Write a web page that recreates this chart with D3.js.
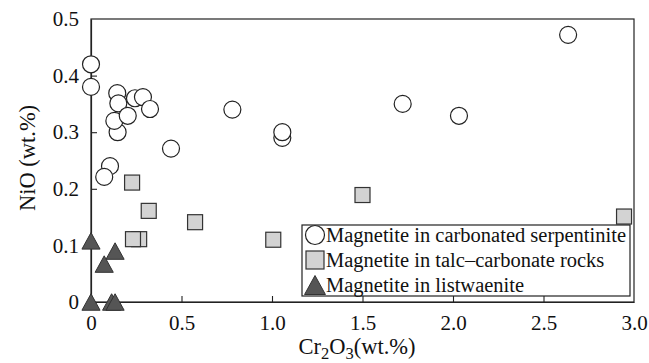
<!DOCTYPE html>
<html>
<head>
<meta charset="utf-8">
<script src="https://cdn.jsdelivr.net/npm/d3@7/dist/d3.min.js"></script>
<style>
  html, body { margin: 0; padding: 0; background: #fff; }
  svg { display: block; }
  text { font-family: "Liberation Serif", "Times New Roman", serif; fill: #111; }
</style>
</head>
<body>
<svg id="chart" width="649" height="363"></svg>
<script>
// Cr2O3 vs NiO (wt.%) of magnetite in three rock types
const serpCr  = [0, 0, 0.145, 0.151, 0.147, 0.129, 0.203, 0.243, 0.287, 0.326, 0.442, 0.781, 0.105, 0.073, 1.057, 1.057, 1.722, 2.033, 2.636];
const serpNi  = [0.42, 0.38, 0.369, 0.351, 0.30, 0.32, 0.329, 0.36, 0.362, 0.341, 0.271, 0.34, 0.24, 0.221, 0.29, 0.30, 0.35, 0.329, 0.472];

const talcCr  = [0.227, 0.319, 0.575, 0.266, 0.232, 1.007, 1.50, 2.945];
const talcNi  = [0.211, 0.161, 0.141, 0.111, 0.111, 0.11, 0.189, 0.151];

const listCr  = [0, 0.133, 0.073, 0, 0.114, 0.133];
const listNi  = [0.108, 0.09, 0.067, 0, 0, 0];

const xTicks = [0, 0.5, 1.0, 1.5, 2.0, 2.5, 3.0];
const xTickLabels = ["0", "0.5", "1.0", "1.5", "2.0", "2.5", "3.0"];
const yTicks = [0, 0.1, 0.2, 0.3, 0.4, 0.5];
const yTickLabels = ["0", "0.1", "0.2", "0.3", "0.4", "0.5"];

const legendLabels = [
  "Magnetite in carbonated serpentinite",
  "Magnetite in talc\u2013carbonate rocks",
  "Magnetite in listwaenite"
];

const svg = d3.select("#chart");
const m = { left: 91, right: 634, top: 19, bottom: 302 };

const x = d3.scaleLinear().domain([0, 3]).range([m.left, m.right]);
const y = d3.scaleLinear().domain([0, 0.5]).range([m.bottom, m.top]);

const ink = "#222";

// plot frame (top and right edges)
svg.append("rect")
  .attr("x", m.left).attr("y", m.top)
  .attr("width", m.right - m.left).attr("height", m.bottom - m.top)
  .attr("fill", "none").attr("stroke", ink).attr("stroke-width", 1.2);

// x axis with inward ticks
const xAxis = d3.axisBottom(x)
  .tickValues(xTicks)
  .tickFormat((d, i) => xTickLabels[i])
  .tickSizeInner(-6).tickSizeOuter(0).tickPadding(13);
const gx = svg.append("g").attr("transform", `translate(0,${m.bottom})`).call(xAxis);

// y axis with inward ticks
const yAxis = d3.axisLeft(y)
  .tickValues(yTicks)
  .tickFormat((d, i) => yTickLabels[i])
  .tickSizeInner(-6).tickSizeOuter(0).tickPadding(12);
const gy = svg.append("g").attr("transform", `translate(${m.left},0)`).call(yAxis);

[gx, gy].forEach(g => {
  g.select(".domain").attr("stroke", ink).attr("stroke-width", 1.2);
  g.selectAll(".tick line").attr("stroke", ink).attr("stroke-width", 1.1);
  g.selectAll(".tick text")
    .attr("font-family", "Liberation Serif, Times New Roman, serif")
    .attr("font-size", 21).attr("fill", "#111");
});
// no tick marks at the corners
gx.selectAll(".tick").filter(d => d === 0 || d === 3).select("line").remove();
gy.selectAll(".tick").filter(d => d === 0 || d === 0.5).select("line").remove();

// axis titles
const xt = svg.append("text")
  .attr("x", 357).attr("y", 354)
  .attr("text-anchor", "middle")
  .attr("font-size", 22.5);
xt.append("tspan").text("Cr");
xt.append("tspan").attr("dy", 5).attr("font-size", 16.5).text("2");
xt.append("tspan").attr("dy", -5).text("O");
xt.append("tspan").attr("dy", 5).attr("font-size", 16.5).text("3");
xt.append("tspan").attr("dy", -5).text("(wt.%)");

svg.append("text")
  .attr("transform", "translate(35,158) rotate(-90)")
  .attr("text-anchor", "middle")
  .attr("font-size", 22.5)
  .text("NiO (wt.%)");

// marker shapes
const triPath = s => `M0,${-s * 0.5}L${s * 0.55},${s * 0.5}L${-s * 0.55},${s * 0.5}Z`;

const plot = svg.append("g");

// open circles: carbonated serpentinite
plot.selectAll("circle.serp")
  .data(d3.zip(serpCr, serpNi))
  .join("circle")
  .attr("class", "serp")
  .attr("cx", d => x(d[0])).attr("cy", d => y(d[1]))
  .attr("r", 8.5)
  .attr("fill", "#fff").attr("stroke", ink).attr("stroke-width", 1.2);

// grey squares: talc-carbonate rocks
const sq = 15;
plot.selectAll("rect.talc")
  .data(d3.zip(talcCr, talcNi))
  .join("rect")
  .attr("class", "talc")
  .attr("x", d => x(d[0]) - sq / 2).attr("y", d => y(d[1]) - sq / 2)
  .attr("width", sq).attr("height", sq)
  .attr("fill", "#d3d3d3").attr("stroke", "#333").attr("stroke-width", 1.2);

// dark triangles: listwaenite
plot.selectAll("path.list")
  .data(d3.zip(listCr, listNi))
  .join("path")
  .attr("class", "list")
  .attr("transform", d => `translate(${x(d[0])},${y(d[1])})`)
  .attr("d", triPath(16.5))
  .attr("fill", "#555").attr("stroke", "#333").attr("stroke-width", 1);

// legend
const lg = svg.append("g");
lg.append("rect")
  .attr("x", 302).attr("y", 225).attr("width", 328).attr("height", 71)
  .attr("fill", "#fff").attr("stroke", ink).attr("stroke-width", 1.2);

const rows = [235, 260, 285];
lg.append("circle").attr("cx", 315).attr("cy", rows[0]).attr("r", 9.5)
  .attr("fill", "#fff").attr("stroke", ink).attr("stroke-width", 1.2);
lg.append("rect").attr("x", 306).attr("y", rows[1] - 9).attr("width", 18).attr("height", 18)
  .attr("fill", "#d3d3d3").attr("stroke", "#333").attr("stroke-width", 1.2);
lg.append("path").attr("transform", `translate(315,${rows[2]})`).attr("d", triPath(19))
  .attr("fill", "#555").attr("stroke", "#333").attr("stroke-width", 1);

lg.selectAll("text.lab")
  .data(legendLabels)
  .join("text")
  .attr("class", "lab")
  .attr("x", 326).attr("y", (d, i) => rows[i] + 7)
  .attr("font-size", 20.5)
  .text(d => d);
</script>
</body>
</html>
